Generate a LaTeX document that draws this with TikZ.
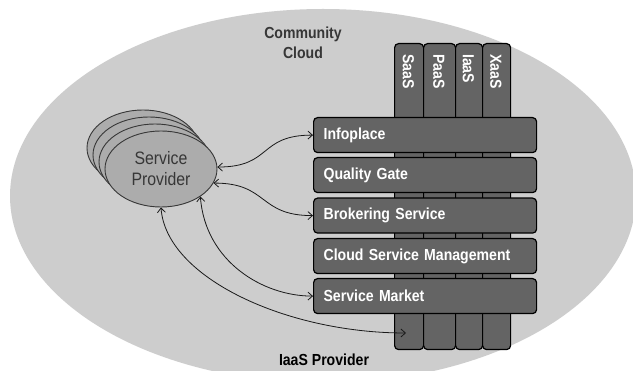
\documentclass[tikz,border=0pt]{standalone}
\usepackage{fontspec}
\newfontfamily\nar[FakeStretch=0.88]{Liberation Sans}
\usetikzlibrary{arrows.meta,shapes.geometric}
\definecolor{cloudgray}{RGB}{205,205,205}
\definecolor{bargray}{RGB}{100,100,100}
\definecolor{spgray}{RGB}{172,172,172}
\definecolor{txtdark}{RGB}{55,55,55}
\tikzset{
  colbox/.style={draw=black,line width=1.2pt,fill=bargray,rounded corners=4pt,inner sep=0pt},
  barbox/.style={draw=black,line width=1.2pt,fill=bargray,rounded corners=4pt,anchor=north west,
    minimum width=223pt,minimum height=35pt,text width=203pt,inner xsep=10pt,inner ysep=0pt,align=left,
    text=white,font=\nar\bfseries\fontsize{16}{18}\selectfont},
  coltext/.style={rotate=-90,anchor=west,inner sep=0pt,text=white,font=\nar\bfseries\fontsize{16}{18}\selectfont},
  spell/.style={ellipse,draw=txtdark,line width=0.9pt,fill=spgray,minimum width=112pt,minimum height=76pt,inner sep=0pt},
  conn/.style={draw=black!90,line width=0.8pt,{Straight Barb[length=4.5pt,width=8pt]}-{Straight Barb[length=4.5pt,width=8pt]}},
  lbl/.style={font=\nar\bfseries\fontsize{16}{20}\selectfont,align=center,inner sep=0pt}
}
\begin{document}
\begin{tikzpicture}[x=1pt,y=-1pt]
\useasboundingbox (0,0) rectangle (633,371);
\fill[white] (0,0) rectangle (633,371);
% community cloud
\fill[cloudgray] (323,196) ellipse [x radius=313pt, y radius=187pt];
\node[lbl,text=txtdark] (cc) at (303,43) {Community\\Cloud};
\node[lbl,text=black] (iaasp) at (324,360) {IaaS Provider};
% columns
\node[colbox,anchor=north west,minimum width=29pt,minimum height=306pt] (col1) at (394,43) {};
\node[colbox,anchor=north west,minimum width=32pt,minimum height=306pt] (col2) at (423,43) {};
\node[colbox,anchor=north west,minimum width=27pt,minimum height=306pt] (col3) at (455,43) {};
\node[colbox,anchor=north west,minimum width=28pt,minimum height=306pt] (col4) at (482,43) {};
\node[coltext] (t1) at (408.5,54) {SaaS};
\node[coltext] (t2) at (439,54) {PaaS};
\node[coltext] (t3) at (468.5,54) {IaaS};
\node[coltext] (t4) at (496,54) {XaaS};
% bars
\node[barbox] (info) at (313,117) {Infoplace};
\node[barbox] (qg) at (313,157) {Quality Gate};
\node[barbox] (brok) at (313,197.5) {Brokering Service};
\node[barbox] (csm) at (313,238) {Cloud Service Management};
\node[barbox] (mkt) at (313,278) {Service Market};
% service provider stack
\node[spell] (sp3) at (143,148) {};
\node[spell] (sp2) at (149,155) {};
\node[spell] (sp1) at (155,162) {};
\node[spell,text=txtdark,font=\nar\fontsize{18}{21}\selectfont,align=center] (sp) at (161,169) {Service\\Provider};
% connectors
\coordinate (c4end) at (406,333);
\draw[conn] (sp.2) .. controls +(55,0) and +(-55,0) .. (info.west);
\draw[conn] (sp.-15) .. controls +(55,0) and +(-55,0) .. (brok.west);
\draw[conn] (sp.-35) .. controls +(5,65) and +(-50,0) .. (mkt.west);
\draw[conn] (sp.south) .. controls +(5,70) and +(-120,0) .. (c4end);
\end{tikzpicture}
\end{document}
